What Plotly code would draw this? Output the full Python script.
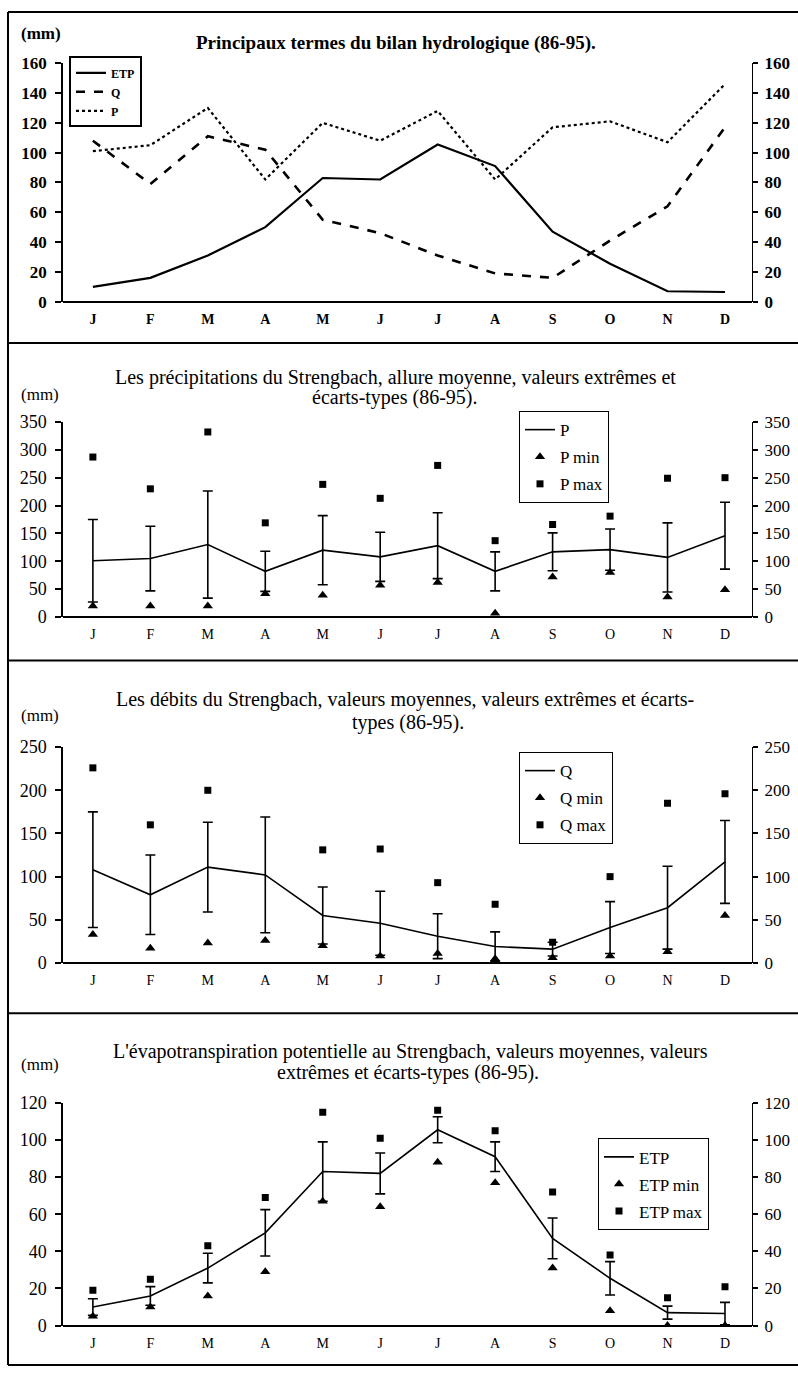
import plotly.graph_objects as go

W, H = 798, 1377

months = ["J", "F", "M", "A", "M", "J", "J", "A", "S", "O", "N", "D"]
xpos = list(range(12))

# Mean monthly values (mm), 1986-1995
etp_mean = [10, 16, 31, 50, 83, 82, 105.5, 91, 47, 25.5, 7, 6.5]
q_mean = [108, 79, 111, 102, 55, 46, 31, 19, 16, 41, 64, 117]
p_mean = [101, 105, 130, 82, 120, 108, 128, 82, 117, 121, 107, 146]

# Precipitation: std dev, minima, maxima
p_sd = [74, 58, 96, 36, 62, 44, 59, 35, 34, 37, 62, 60]
p_min = [20, 20, 20, 42, 39, 57, 62, 7, 72, 80, 36, 49]
p_max = [287, 230, 332, 169, 238, 213, 272, 137, 166, 181, 249, 250]

# Discharge: std dev, minima, maxima
q_sd = [67, 46, 52, 67, 33, 37, 26, 17, 8, 30, 48, 48]
q_min = [33, 17, 23, 26, 20, 8, 11, 5, 6, 8, 13, 55]
q_max = [226, 160, 200, 263, 131, 132, 93, 68, 24, 100, 185, 196]

# Potential evapotranspiration: std dev, minima, maxima
etp_sd = [4.5, 5, 8, 12.5, 16, 11, 7, 8, 11, 9, 3.5, 6]
etp_min = [5, 10, 16, 29, 67, 64, 88, 77, 31, 8, 0, 0]
etp_max = [19, 25, 43, 69, 115, 101, 116, 105, 72, 38, 15, 21]

FONT = "Liberation Serif"


def py(px):
    return 1 - px / H


def pxx(px):
    return px / W


panels = [
    dict(top=54, bottom=296, ymax=160, step=20, bold=True),
    dict(top=418, bottom=616, ymax=350, step=50, bold=False),
    dict(top=748, bottom=967, ymax=250, step=50, bold=False),
    dict(top=1109, bottom=1335, ymax=120, step=20, bold=False),
]
x_dom = [pxx(63), pxx(752)]

fig = go.Figure()

# ---- Panel 1 ----
fig.add_trace(go.Scatter(x=xpos, y=etp_mean, mode="lines", name="ETP",
                         line=dict(color="black", width=2.2),
                         xaxis="x", yaxis="y", legend="legend"))
fig.add_trace(go.Scatter(x=xpos, y=q_mean, mode="lines", name="Q",
                         line=dict(color="black", width=2.6, dash="dash"),
                         xaxis="x", yaxis="y", legend="legend"))
fig.add_trace(go.Scatter(x=xpos, y=p_mean, mode="lines", name="P",
                         line=dict(color="black", width=2.2, dash="dot"),
                         xaxis="x", yaxis="y", legend="legend"))


def err_panel(idx, mean, sd, vmin, vmax, label):
    xa = f"x{idx}"
    ya = f"y{idx}"
    lg = f"legend{idx}"
    fig.add_trace(go.Scatter(
        x=xpos, y=mean, mode="lines", name=label,
        line=dict(color="black", width=1.6),
        error_y=dict(type="data", array=sd, visible=True, color="black",
                     thickness=1.6, width=5),
        xaxis=xa, yaxis=ya, legend=lg, legendgroup=f"{label}a"))
    fig.add_trace(go.Scatter(
        x=xpos, y=vmin, mode="markers", name=f"{label} min",
        marker=dict(symbol="triangle-up", color="black", size=9),
        xaxis=xa, yaxis=ya, legend=lg, legendgroup=f"{label}b"))
    fig.add_trace(go.Scatter(
        x=xpos, y=vmax, mode="markers", name=f"{label} max",
        marker=dict(symbol="square", color="black", size=7),
        xaxis=xa, yaxis=ya, legend=lg, legendgroup=f"{label}c"))


err_panel(2, p_mean, p_sd, p_min, p_max, "P")
err_panel(3, q_mean, q_sd, q_min, q_max, "Q")
err_panel(4, etp_mean, etp_sd, etp_min, etp_max, "ETP")

# empty traces so right-hand axes are drawn
for i in range(4):
    fig.add_trace(go.Scatter(x=[], y=[], showlegend=False,
                             xaxis="x" if i == 0 else f"x{i+1}",
                             yaxis=f"y{i+5}"))

layout = dict(
    width=W, height=H, margin=dict(l=0, r=0, t=0, b=0),
    paper_bgcolor="white", plot_bgcolor="white",
    font=dict(family=FONT, color="black"),
    showlegend=True,
)

for i, p in enumerate(panels):
    n = i + 1
    xk = "xaxis" if n == 1 else f"xaxis{n}"
    yk = "yaxis" if n == 1 else f"yaxis{n}"
    yr = f"yaxis{n+4}"
    ydom = [py(p["bottom"]), py(p["top"])]
    weight = "bold" if p["bold"] else "normal"
    tv = list(range(0, p["ymax"] + 1, p["step"]))
    layout[xk] = dict(
        domain=x_dom, range=[-0.52, 11.47], anchor="y" if n == 1 else f"y{n}",
        tickvals=xpos, ticktext=months, ticks="", showgrid=False,
        zeroline=False, showline=False,
        tickfont=dict(family=FONT, size=14, weight=weight),
        ticklabelstandoff=7,
    )
    layout[yk] = dict(
        domain=ydom, range=[0, p["ymax"]], anchor="x" if n == 1 else f"x{n}",
        tickvals=tv, ticks="outside", ticklen=6, tickwidth=1.5,
        tickcolor="black", showgrid=False, zeroline=True,
        zerolinecolor="black", zerolinewidth=2,
        showline=True, linecolor="black", linewidth=1.5,
        tickfont=dict(family=FONT, size=18 if not p["bold"] else 17, weight=weight),
        ticklabelstandoff=5,
    )
    layout[yr] = dict(
        overlaying="y" if n == 1 else f"y{n}", side="right",
        anchor="x" if n == 1 else f"x{n}",
        range=[0, p["ymax"]], tickvals=tv, ticks="outside", ticklen=5,
        tickwidth=1.5, tickcolor="black", showgrid=False, zeroline=False,
        showline=True, linecolor="black", linewidth=1.2,
        tickfont=dict(family=FONT, size=17, weight=weight),
        ticklabelstandoff=3,
    )

# legends
layout["legend"] = dict(
    x=pxx(69), y=py(47), xanchor="left", yanchor="top",
    bordercolor="black", borderwidth=2, bgcolor="white",
    font=dict(family=FONT, size=12, weight="bold"),
    tracegroupgap=0,
)
leg_common = dict(xanchor="left", yanchor="top", bordercolor="black",
                  borderwidth=1, bgcolor="white", traceorder="grouped",
                  tracegroupgap=2,
                  font=dict(family=FONT, size=17))
layout["legend2"] = dict(x=pxx(519), y=py(407), **leg_common)
layout["legend3"] = dict(x=pxx(519), y=py(753), **leg_common)
layout["legend4"] = dict(x=pxx(598), y=py(1145), **leg_common)

fig.update_layout(**layout)

# titles and units
ann = [
    (396, 33, "Principaux termes du bilan hydrologique (86-95).", 19, "bold"),
    (395, 373, "Les précipitations du Strengbach, allure moyenne, valeurs extrêmes et", 20, "normal"),
    (395, 393, "écarts-types (86-95).", 20, "normal"),
    (405, 700, "Les débits du Strengbach, valeurs moyennes, valeurs extrêmes et écarts-", 20, "normal"),
    (408, 723, "types (86-95).", 20, "normal"),
    (410, 1057, "L'évapotranspiration potentielle au Strengbach, valeurs moyennes, valeurs", 20, "normal"),
    (408, 1078, "extrêmes et écarts-types (86-95).", 20, "normal"),
]
for x, y, t, s, w in ann:
    fig.add_annotation(x=pxx(x), y=py(y), xref="paper", yref="paper",
                       text=t, showarrow=False, xanchor="center",
                       yanchor="middle",
                       font=dict(family=FONT, size=s, weight=w))

for y, w in [(24, "bold"), (390, "normal"), (716, "normal"), (1070, "normal")]:
    fig.add_annotation(x=pxx(19), y=py(y), xref="paper", yref="paper",
                       text="(mm)", showarrow=False, xanchor="left",
                       yanchor="middle",
                       font=dict(family=FONT, size=17, weight=w))

# panel frames
for y in [2, 338, 660, 1018, 1375]:
    fig.add_shape(type="line", xref="paper", yref="paper",
                  x0=pxx(8), x1=1.0, y0=py(y), y1=py(y),
                  line=dict(color="black", width=2))
fig.add_shape(type="line", xref="paper", yref="paper",
              x0=pxx(8), x1=pxx(8), y0=py(2), y1=py(1375),
              line=dict(color="black", width=2))

fig.write_html(
    "out.html",
    config={"displayModeBar": False},
    post_script="document.body.style.margin='0';document.body.style.overflow='hidden';",
)
